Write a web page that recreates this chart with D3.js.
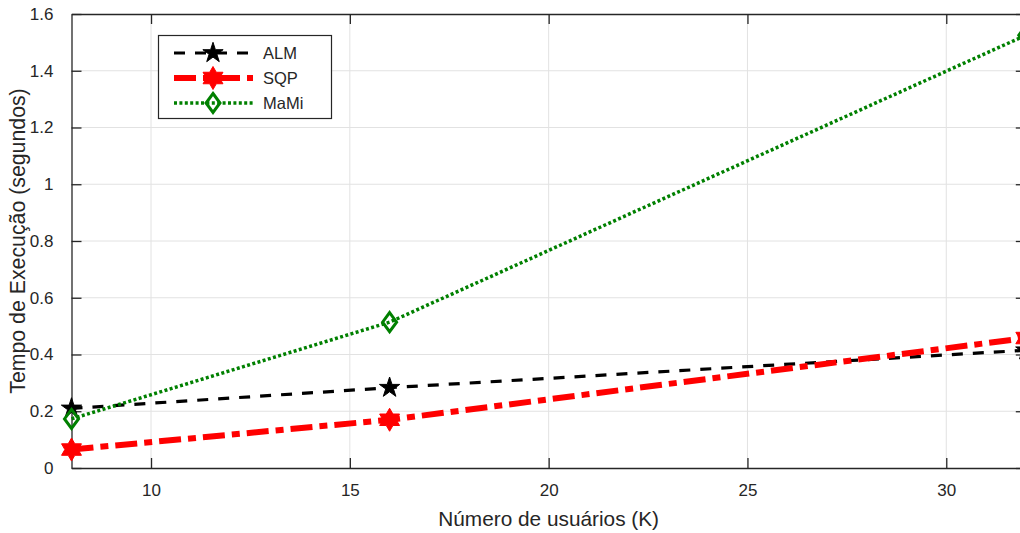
<!DOCTYPE html>
<html>
<head>
<meta charset="utf-8">
<script src="https://cdn.jsdelivr.net/npm/d3@7"></script>
<style>
  html, body { margin: 0; padding: 0; background: #fff; }
  svg { display: block; }
  text { font-family: "Liberation Sans", Arial, Helvetica, sans-serif; fill: #262626; }
</style>
</head>
<body>
<svg id="chart" width="1020" height="533"></svg>
<script>
// Number of users (K) at which the solvers were timed
const users = [8, 16, 32];
// Execution time in seconds for each method
const almTimes = [0.21, 0.283, 0.415];
const sqpTimes = [0.065, 0.17, 0.458];
const mamiTimes = [0.173, 0.514, 1.525];
const methodNames = ["ALM", "SQP", "MaMi"];

const xTicks = [10, 15, 20, 25, 30];
const yTicks = [0, 0.2, 0.4, 0.6, 0.8, 1, 1.2, 1.4, 1.6];
const yTickLabels = ["0", "0.2", "0.4", "0.6", "0.8", "1", "1.2", "1.4", "1.6"];
const xTitle = "Número de usuários (K)";
const yTitle = "Tempo de Execução (segundos)";

const svg = d3.select("#chart");
const axisColor = "#262626";
const gridColor = "#e2e2e2";

const plot = { left: 71.5, right: 1025.8, top: 14, bottom: 468 };
const x = d3.scaleLinear().domain([8, 32]).range([plot.left, plot.right]);
const y = d3.scaleLinear().domain([0, 1.6]).range([plot.bottom, plot.top]);

// custom marker shapes
function hexagram(r) {
  const ri = r / Math.sqrt(3);
  const pts = [];
  for (let i = 0; i < 12; i++) {
    const a = -Math.PI / 2 + i * Math.PI / 6;
    const rr = i % 2 === 0 ? r : ri;
    pts.push([rr * Math.cos(a), rr * Math.sin(a)]);
  }
  return "M" + pts.map(p => p.join(",")).join("L") + "Z";
}
function diamond(w, h) {
  return `M0,${-h}L${w},0L0,${h}L${-w},0Z`;
}
const starPath = d3.symbol().type(d3.symbolStar).size(128)();

const series = [
  { name: methodNames[0], values: almTimes, color: "#000000", width: 3.2, dash: "11,10",
    marker: starPath, markerFill: "#000000", markerStroke: "#000000", markerStrokeWidth: 1 },
  { name: methodNames[1], values: sqpTimes, color: "#ff0000", width: 6, dash: "22,7,8,7",
    marker: hexagram(11.5), markerFill: "#ff0000", markerStroke: "#ff0000", markerStrokeWidth: 1 },
  { name: methodNames[2], values: mamiTimes, color: "#008000", width: 3.5, dash: "3,2.4",
    marker: diamond(7, 9.5), markerFill: "none", markerStroke: "#008000", markerStrokeWidth: 3 }
];

// grid
const grid = svg.append("g");
grid.selectAll("line.gx").data(xTicks).join("line")
  .attr("x1", d => x(d)).attr("x2", d => x(d))
  .attr("y1", plot.top).attr("y2", plot.bottom)
  .attr("stroke", gridColor).attr("stroke-width", 1);
grid.selectAll("line.gy").data(yTicks.filter(d => d > 0 && d < 1.6)).join("line")
  .attr("x1", plot.left).attr("x2", plot.right)
  .attr("y1", d => y(d)).attr("y2", d => y(d))
  .attr("stroke", gridColor).attr("stroke-width", 1);

// axes with inward ticks on all four sides
const tickLen = 10;
const bottomAxis = svg.append("g").attr("transform", `translate(0,${plot.bottom})`)
  .call(d3.axisBottom(x).tickValues(xTicks).tickSizeInner(-tickLen).tickSizeOuter(0).tickPadding(tickLen + 6));
const topAxis = svg.append("g").attr("transform", `translate(0,${plot.top})`)
  .call(d3.axisTop(x).tickValues(xTicks).tickSizeInner(-tickLen).tickSizeOuter(0).tickFormat(""));
const leftAxis = svg.append("g").attr("transform", `translate(${plot.left},0)`)
  .call(d3.axisLeft(y).tickValues(yTicks).tickSizeInner(-tickLen).tickSizeOuter(0)
    .tickPadding(tickLen + 8).tickFormat((d, i) => yTickLabels[i]));
const rightAxis = svg.append("g").attr("transform", `translate(${plot.right},0)`)
  .call(d3.axisRight(y).tickValues(yTicks).tickSizeInner(-tickLen).tickSizeOuter(0).tickFormat(""));

[bottomAxis, topAxis, leftAxis, rightAxis].forEach(g => {
  g.select(".domain").attr("stroke", axisColor).attr("stroke-width", 1.3);
  g.selectAll(".tick line").attr("stroke", axisColor).attr("stroke-width", 1.3);
  g.selectAll(".tick text").attr("font-size", 17).attr("fill", axisColor)
    .style("font-family", '"Liberation Sans", Arial, sans-serif');
});

// data lines
const line = d3.line().x((d, i) => x(users[i])).y(d => y(d));
const lines = svg.append("g");
series.forEach(s => {
  lines.append("path").datum(s.values)
    .attr("d", line).attr("fill", "none")
    .attr("stroke", s.color).attr("stroke-width", s.width)
    .attr("stroke-dasharray", s.dash);
  lines.selectAll(null).data(s.values).join("path")
    .attr("transform", (d, i) => `translate(${x(users[i])},${y(d)})`)
    .attr("d", s.marker)
    .attr("fill", s.markerFill).attr("stroke", s.markerStroke)
    .attr("stroke-width", s.markerStrokeWidth).attr("stroke-linejoin", "miter");
});

// axis titles
svg.append("text").attr("x", (plot.left + plot.right) / 2).attr("y", 526)
  .attr("text-anchor", "middle").attr("font-size", 20.8).text(xTitle);
svg.append("text").attr("transform", `translate(25,${(plot.top + plot.bottom) / 2}) rotate(-90)`)
  .attr("text-anchor", "middle").attr("font-size", 21.3).text(yTitle);

// legend
const legend = svg.append("g");
legend.append("rect").attr("x", 158.5).attr("y", 35.5).attr("width", 173).attr("height", 83)
  .attr("fill", "#fff").attr("stroke", axisColor).attr("stroke-width", 1.2);
series.forEach((s, i) => {
  const ly = 53 + i * 25;
  legend.append("line").attr("x1", 174).attr("x2", 253).attr("y1", ly).attr("y2", ly)
    .attr("stroke", s.color).attr("stroke-width", s.width).attr("stroke-dasharray", s.dash);
  legend.append("path").attr("transform", `translate(213,${ly})`).attr("d", s.marker)
    .attr("fill", s.markerFill).attr("stroke", s.markerStroke).attr("stroke-width", s.markerStrokeWidth);
  legend.append("text").attr("x", 263).attr("y", ly + 6).attr("font-size", 16.5).text(s.name);
});
</script>
</body>
</html>
